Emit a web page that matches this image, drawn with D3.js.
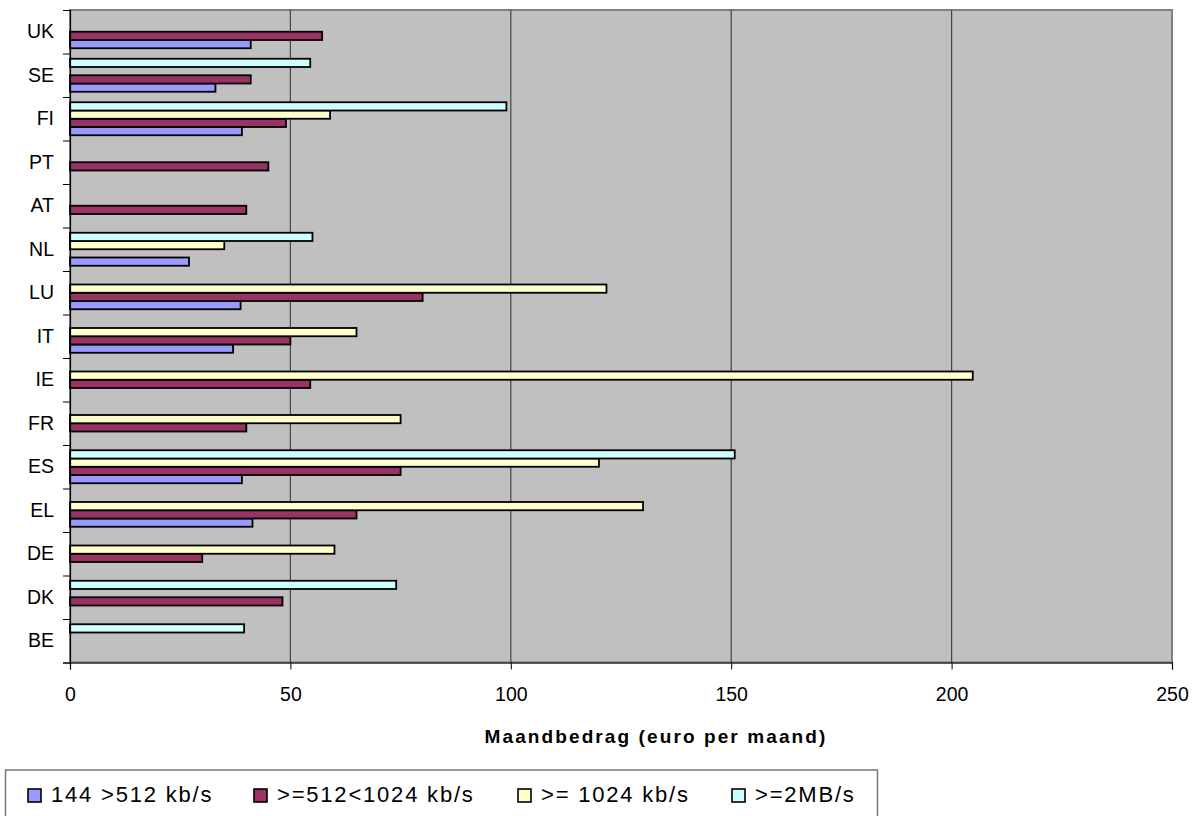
<!DOCTYPE html>
<html>
<head>
<meta charset="utf-8">
<script src="https://cdn.jsdelivr.net/npm/d3@7"></script>
<style>
  html, body { margin: 0; padding: 0; background: #fff; }
  svg { display: block; font-family: "Liberation Sans", Arial, sans-serif; }
</style>
</head>
<body>
<svg id="chart" width="1199" height="816"></svg>
<script>
// Countries, top to bottom
const countries = ["UK", "SE", "FI", "PT", "AT", "NL", "LU", "IT", "IE", "FR", "ES", "EL", "DE", "DK", "BE"];

// Series names (legend order)
const seriesNames = ["144 >512 kb/s", ">=512<1024 kb/s", ">= 1024 kb/s", ">=2MB/s"];
const seriesColors = ["#9999FF", "#993366", "#FFFFCC", "#CCFFFF"];

// Monthly price (euro per month) per country, null = no offer
const s144to512   = [41, 33, 39, null, null, 27, 38.7, 37, null, null, 39, 41.4, null, null, null];
const s512to1024  = [57.2, 41, 49, 45, 40, null, 80, 50, 54.5, 40, 75, 65, 30, 48.2, null];
const s1024plus   = [null, null, 59, null, null, 35, 121.7, 65, 204.8, 75, 120, 130, 60, null, null];
const s2mbPlus    = [null, 54.5, 99, null, null, 55, null, null, null, null, 150.8, null, null, 74, 39.5];

const xTicks = [0, 50, 100, 150, 200, 250];
const xTitle = "Maandbedrag (euro per maand)";

const seriesValues = [s144to512, s512to1024, s1024plus, s2mbPlus];

const svg = d3.select("#chart");
const plot = { left: 70, right: 1172, top: 10, bottom: 662.5 };

const x = d3.scaleLinear().domain([0, 250]).range([plot.left, plot.right]);
const y = d3.scaleBand().domain(countries).range([plot.top, plot.bottom]).padding(0);
// within each country, the last series sits on top
const ySub = d3.scaleBand()
  .domain(d3.range(seriesNames.length).reverse())
  .range([0, y.bandwidth()])
  .paddingInner(0)
  .paddingOuter(0.636);

// plot area
svg.append("rect")
  .attr("x", plot.left).attr("y", plot.top)
  .attr("width", plot.right - plot.left).attr("height", plot.bottom - plot.top)
  .attr("fill", "#C0C0C0")
  .attr("stroke", "#808080").attr("stroke-width", 2);

// vertical gridlines
svg.append("g").selectAll("line")
  .data(xTicks.filter(d => d > 0 && d < 250))
  .join("line")
  .attr("x1", d => x(d)).attr("x2", d => x(d))
  .attr("y1", plot.top).attr("y2", plot.bottom)
  .attr("stroke", "#444").attr("stroke-width", 1.2);

// bars
const rows = [];
countries.forEach((c, i) => {
  seriesValues.forEach((vals, s) => {
    if (vals[i] != null) rows.push({ country: c, s, v: vals[i] });
  });
});
svg.append("g").selectAll("rect")
  .data(rows)
  .join("rect")
  .attr("x", x(0))
  .attr("y", d => y(d.country) + ySub(d.s))
  .attr("width", d => x(d.v) - x(0))
  .attr("height", ySub.bandwidth())
  .attr("fill", d => seriesColors[d.s])
  .attr("stroke", "#000").attr("stroke-width", 1.8);

// x axis
const xAxis = svg.append("g")
  .attr("transform", `translate(0,${plot.bottom})`)
  .call(d3.axisBottom(x).tickValues(xTicks).tickSize(7).tickPadding(18).tickFormat(d3.format("d")));
xAxis.select(".domain").attr("stroke", "#000").attr("stroke-width", 1.2);
xAxis.selectAll(".tick line").attr("stroke", "#000");
xAxis.selectAll("text").attr("font-size", "19.5px").attr("fill", "#000")
  .attr("font-family", "Liberation Sans, Arial, sans-serif");

// y axis: tick marks at category boundaries
const yIdx = d3.scaleLinear().domain([0, countries.length]).range([plot.top, plot.bottom]);
const yTicksG = svg.append("g")
  .attr("transform", `translate(${plot.left},0)`)
  .call(d3.axisLeft(yIdx).tickValues(d3.range(countries.length + 1)).tickSize(7).tickFormat(""));
yTicksG.select(".domain").attr("stroke", "#000").attr("stroke-width", 1.2);
yTicksG.selectAll(".tick line").attr("stroke", "#000");

// y axis: country labels at band centres
const yLab = svg.append("g")
  .attr("transform", `translate(${plot.left},0)`)
  .call(d3.axisLeft(y).tickSize(0).tickPadding(16));
yLab.select(".domain").remove();
yLab.selectAll("text").attr("font-size", "19.5px").attr("fill", "#000")
  .attr("font-family", "Liberation Sans, Arial, sans-serif");

// axis title
svg.append("text")
  .attr("x", 656).attr("y", 743)
  .attr("text-anchor", "middle")
  .attr("font-size", "19px").attr("font-weight", "bold")
  .attr("letter-spacing", "2.1px")
  .text(xTitle);

// legend
const legend = svg.append("g");
legend.append("rect")
  .attr("x", 5.5).attr("y", 770).attr("width", 872).attr("height", 70)
  .attr("fill", "#fff").attr("stroke", "#777").attr("stroke-width", 1.5);
const legendX = [28, 254, 518, 732];
const items = legend.selectAll("g.item")
  .data(seriesNames.map((n, i) => ({ n, i })))
  .join("g").attr("class", "item")
  .attr("transform", d => `translate(${legendX[d.i]},0)`);
items.append("rect")
  .attr("x", 0).attr("y", 789).attr("width", 13).attr("height", 13)
  .attr("fill", d => seriesColors[d.i])
  .attr("stroke", "#000").attr("stroke-width", 1.6);
items.append("text")
  .attr("x", 23).attr("y", 802)
  .attr("font-size", "22px").attr("letter-spacing", "1.8px")
  .attr("xml:space", "preserve")
  .style("white-space", "pre")
  .text(d => d.n);
</script>
</body>
</html>
